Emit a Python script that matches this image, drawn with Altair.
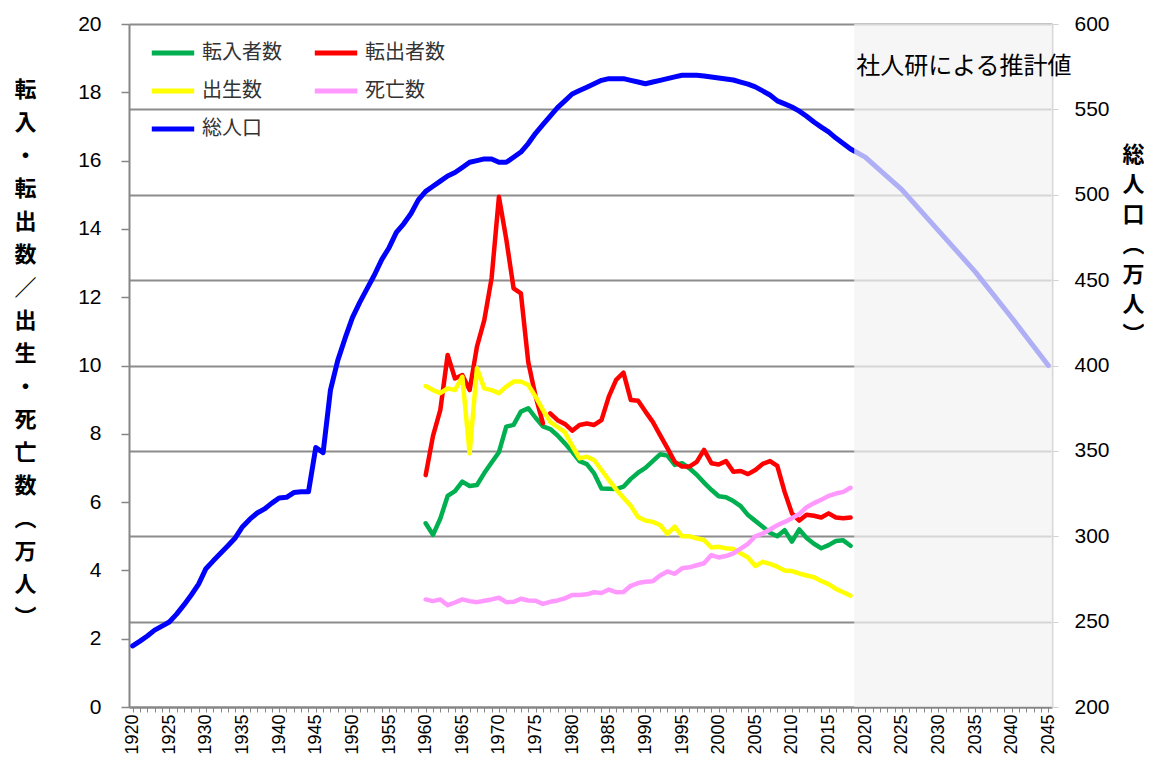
import altair as alt
import pandas as pd

# ---------------- data ----------------
# legend order is column-major: column 1 = 転入者数, 出生数, 総人口 ; column 2 = 転出者数, 死亡数
series_names = ["転入者数", "出生数", "総人口", "転出者数", "死亡数"]
series_colors = ["#00B050", "#FFFF00", "#0000FF", "#FF0000", "#FF99FF"]

flow_years = list(range(1960, 2019))

tennyu = [5.38, 5.04, 5.52, 6.18, 6.32, 6.60, 6.47, 6.50, 6.85, 7.16,
          7.46, 8.21, 8.26, 8.65, 8.75, 8.47, 8.22, 8.14, 7.95, 7.72,
          7.47, 7.20, 7.11, 6.84, 6.40, 6.39, 6.38, 6.45, 6.68, 6.86,
          7.00, 7.20, 7.40, 7.36, 7.09, 7.14, 6.99, 6.80, 6.57, 6.36,
          6.17, 6.14, 6.03, 5.88, 5.62, 5.45, 5.28, 5.10, 5.00, 5.18,
          4.84, 5.20, 4.95, 4.78, 4.65, 4.74, 4.86, 4.88, 4.72]

tenshutsu = [6.79, 7.94, 8.70, 10.31, 9.62, 9.72, 9.28, 10.55, 11.33, 12.56,
             14.94, 13.70, 12.26, 12.11, 10.10, 9.10, 8.31, 8.60, 8.40, 8.29,
             8.09, 8.26, 8.30, 8.26, 8.40, 9.09, 9.58, 9.79, 8.99, 8.97,
             8.65, 8.35, 7.96, 7.58, 7.18, 7.04, 7.04, 7.18, 7.53, 7.14,
             7.10, 7.20, 6.89, 6.91, 6.82, 6.94, 7.12, 7.20, 7.06, 6.30,
             5.67, 5.46, 5.63, 5.60, 5.55, 5.67, 5.55, 5.53, 5.55]
# the 転出者数 line is broken between 1976 and 1977
tenshutsu_segment = [1 if y <= 1976 else 2 for y in flow_years]

shusseisu = [9.40, 9.28, 9.19, 9.33, 9.28, 9.67, 7.43, 9.92, 9.33, 9.28,
             9.19, 9.38, 9.53, 9.53, 9.43, 9.09, 8.70, 8.35, 8.20, 8.05,
             7.65, 7.28, 7.33, 7.23, 6.94, 6.65, 6.37, 6.13, 5.89, 5.56,
             5.46, 5.42, 5.33, 5.07, 5.28, 5.00, 5.00, 4.94, 4.89, 4.67,
             4.69, 4.65, 4.63, 4.50, 4.38, 4.13, 4.25, 4.19, 4.11, 4.00,
             3.98, 3.91, 3.85, 3.80, 3.69, 3.60, 3.46, 3.36, 3.26]

shibosu = [3.15, 3.10, 3.15, 2.98, 3.06, 3.15, 3.10, 3.07, 3.11, 3.15,
           3.20, 3.07, 3.08, 3.17, 3.12, 3.11, 3.02, 3.08, 3.12, 3.18,
           3.28, 3.28, 3.30, 3.36, 3.34, 3.44, 3.36, 3.37, 3.55, 3.63,
           3.67, 3.68, 3.85, 3.97, 3.90, 4.06, 4.09, 4.15, 4.21, 4.45,
           4.38, 4.42, 4.50, 4.64, 4.78, 5.00, 5.08, 5.20, 5.32, 5.42,
           5.53, 5.65, 5.85, 5.97, 6.07, 6.18, 6.25, 6.30, 6.42]

pop_years = list(range(1920, 2019)) + [2020, 2025, 2030, 2035, 2040, 2045]
total_pop = [235.8, 238.6, 241.6, 245.0, 247.4, 249.8, 254.4, 259.8, 265.6, 272.0,
             281.0, 285.6, 290.0, 294.4, 299.0, 305.6, 310.0, 313.6, 316.0, 319.4,
             322.4, 322.8, 325.6, 326.0, 326.0, 352.0, 349.0, 385.6, 403.0, 416.0,
             428.0, 437.0, 445.0, 453.0, 462.0, 469.0, 478.0, 483.0, 489.0, 497.0,
             502.0, 505.0, 508.0, 511.0, 513.0, 516.0, 519.0, 520.0, 521.0, 521.0,
             519.0, 519.0, 522.0, 525.0, 530.0, 536.0, 541.0, 546.0, 551.0, 555.0,
             559.0, 561.0, 563.0, 565.0, 567.0, 568.0, 568.0, 568.0, 567.0, 566.0,
             565.0, 566.0, 567.0, 568.0, 569.0, 570.0, 570.0, 570.0, 569.6, 569.0,
             568.4, 567.8, 567.2, 566.0, 564.8, 563.2, 560.8, 558.4, 555.0, 553.2,
             551.4, 549.0, 546.0, 542.6, 539.6, 536.8, 533.2, 530.0, 526.8,
             522.0, 503.0, 479.0, 455.0, 428.0, 400.0]

projection_span = [2018.5, 2045.5]
projection_label = "社人研による推計値"

left_ticks = list(range(0, 21, 2))
right_ticks = list(range(200, 601, 50))
year_ticks = list(range(1920, 2046))

left_title = list("転入・転出数／出生・死亡数") + ["︵", "万", "人", "︶"]
right_title = list("総人口") + ["︵", "万", "人", "︶"]

# ---------------- tables ----------------
def flow_frame(name, values, seg=None):
    return pd.DataFrame({
        "year": flow_years,
        "value": values,
        "series": name,
        "seg": seg if seg is not None else [1] * len(flow_years),
    })

df_in = flow_frame("転入者数", tennyu)
df_out = flow_frame("転出者数", tenshutsu, tenshutsu_segment)
df_birth = flow_frame("出生数", shusseisu)
df_death = flow_frame("死亡数", shibosu)
df_pop = pd.DataFrame({"year": pop_years, "pop": total_pop, "series": "総人口"})
df_shade = pd.DataFrame({"start": [projection_span[0]], "end": [projection_span[1]]})

# ---------------- chart ----------------
W, H = 923, 683
CJK = "Noto Sans CJK JP"
NUM = "Liberation Sans"
AXIS_GRAY = "#868686"

x_scale = alt.Scale(domain=[1919.5, 2045.5], nice=False, zero=False)
color_scale = alt.Scale(domain=series_names, range=series_colors)

x_axis = alt.Axis(
    values=year_ticks, format="d",
    labelExpr="datum.value % 5 === 0 ? datum.label : ''",
    labelAngle=270, labelFont=NUM, labelFontSize=18, labelColor="black",
    labelPadding=2, labelOverlap=False, labelFlush=False, labelBound=False,
    tickSize=5, tickColor=AXIS_GRAY, domainColor=AXIS_GRAY, domainWidth=2,
    grid=False, title=None,
)

left_axis = alt.Axis(
    values=left_ticks, grid=False,
    labelFont=NUM, labelFontSize=21, labelColor="black", labelPadding=20,
    tickSize=8, tickColor=AXIS_GRAY, tickWidth=1.5,
    domainColor=AXIS_GRAY, domainWidth=2,
    title=left_title, titleAngle=0, titleX=-104, titleY=55,
    titleAlign="center", titleBaseline="top",
    titleFont=CJK, titleFontSize=22, titleFontWeight="bold",
    titleLineHeight=33, titleColor="black",
)

right_axis = alt.Axis(
    orient="right", values=right_ticks,
    grid=True, gridColor="#8c8c8c", gridWidth=2,
    labelFont=NUM, labelFontSize=21, labelColor="black", labelPadding=16,
    tickSize=6, tickColor="#d0d0d0", domainColor="#d9d9d9", domainWidth=2,
    title=right_title, titleAngle=0, titleX=81, titleY=120,
    titleAlign="center", titleBaseline="top",
    titleFont=CJK, titleFontSize=22, titleFontWeight="bold",
    titleLineHeight=30, titleColor="black",
)

legend = alt.Legend(
    title=None, orient="none", legendX=20, legendY=5, columns=2,
    symbolType="stroke", symbolSize=1800, symbolStrokeWidth=5,
    labelFont=CJK, labelFontSize=20, labelColor="#333333", labelOffset=5,
    columnPadding=22, rowPadding=4, padding=0,
)

def flow_line(df):
    return alt.Chart(df).mark_line(strokeWidth=4.5, strokeJoin="round", strokeCap="round").encode(
        x=alt.X("year:Q", scale=x_scale, axis=x_axis),
        y=alt.Y("value:Q", scale=alt.Scale(domain=[0, 20], nice=False, zero=True), axis=left_axis),
        color=alt.Color("series:N", scale=color_scale, legend=legend),
        detail="seg:N",
    )

left = alt.layer(flow_line(df_in), flow_line(df_out), flow_line(df_birth), flow_line(df_death))

right = alt.Chart(df_pop).mark_line(strokeWidth=5, strokeJoin="round", strokeCap="round").encode(
    x=alt.X("year:Q", scale=x_scale, axis=x_axis),
    y=alt.Y("pop:Q", scale=alt.Scale(domain=[200, 600], nice=False, zero=False), axis=right_axis),
    color=alt.Color("series:N", scale=color_scale, legend=legend),
)

shade = alt.Chart(df_shade).mark_rect(fill="#f2f2f2", opacity=0.72).encode(
    x=alt.X("start:Q", scale=x_scale, axis=x_axis),
    x2="end:Q",
    y=alt.value(0),
    y2=alt.value(H),
)

label = alt.Chart(df_shade).mark_text(
    text=projection_label, align="left", baseline="middle",
    font=CJK, fontSize=24, color="black", dx=2,
).encode(
    x=alt.X("start:Q", scale=x_scale, axis=x_axis),
    y=alt.value(43),
)

chart = alt.layer(left, right, shade, label).resolve_scale(y="independent").properties(
    width=W, height=H,
    autosize=alt.AutoSizeParams(type="none"),
    padding={"left": 121, "top": 16, "right": 92, "bottom": 54},
    background="white",
).configure_view(stroke=None).configure_axisX(labelOverlap=False)

chart.save("out.html", embed_options={"renderer": "svg", "actions": False})
